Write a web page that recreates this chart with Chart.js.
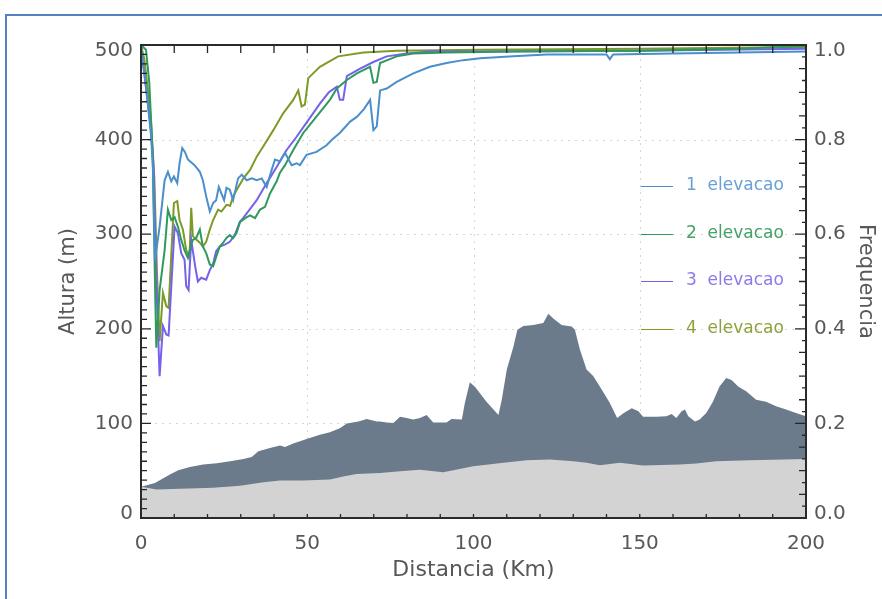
<!DOCTYPE html>
<html>
<head>
<meta charset="utf-8">
<script src="https://cdn.jsdelivr.net/npm/chart.js@4/dist/chart.umd.min.js"></script>
<style>
  html, body { margin: 0; padding: 0; background: #fff; }
  #wrap { position: relative; width: 882px; height: 599px; overflow: hidden; }
  #frame { position: absolute; left: 5px; top: 14px; width: 900px; height: 700px;
           border: 2px solid #5183c3; box-sizing: border-box; }
  #chart { position: absolute; left: 0; top: 0; }
  .key { position: absolute; left: 641px; font: 17px "DejaVu Sans", sans-serif; white-space: pre; }
  .key i { position: absolute; left: 0; width: 32px; height: 0; border-top: 1.6px solid; }
  .key span { position: absolute; left: 45px; top: -12px; }
</style>
</head>
<body>
<div id="wrap">
  <div id="frame"></div>
  <canvas id="chart" width="882" height="599"></canvas>
  <div id="keys"></div>
</div>
<script>
// Terrain profile along the path (m)
const terrainDist = [0, 4.2, 6.7, 8.7, 11.2, 14.7, 18.7, 22.8, 26.8, 30.8, 33.3, 35.3, 38.8, 41.8, 43.3, 45.8,
  49.8, 53.8, 56.8, 59.8, 61.9, 65.4, 67.9, 70.9, 71.9, 73.9, 75.9, 77.9, 79.9, 81.9, 83.9, 85.9, 87.9, 91.9,
  93.4, 96.5, 97.4, 98.9, 100.5, 103.9, 107.5, 108.5, 110, 112, 113.2, 115, 118, 121, 122.5, 124, 126.5, 129.5,
  130.5, 132, 134, 136, 138.6, 141, 143.2, 145.2, 147.6, 149.6, 151, 155, 158, 159.6, 161, 162.6, 163.6, 164.6,
  166.6, 168, 170, 172, 174, 176, 177.6, 179.6, 182, 185, 188, 191, 194, 197, 200];
const terrainHeight = [33, 37, 42, 46, 50.5, 54, 56.5, 58, 60, 62.5, 64.6, 70.5, 74, 76.6, 75, 78.7,
  83.6, 88, 90.6, 95, 99.8, 102, 104.7, 102, 102, 101, 100.5, 107, 105.8, 104, 105.8, 109, 101, 101,
  104.7, 104, 121.6, 143.4, 138.5, 123, 109, 125, 156.8, 181, 199, 203, 204, 206, 216, 211, 204, 202.5,
  199, 178, 157, 150, 135.7, 121.6, 105.8, 111, 116, 112.8, 107, 107, 107.5, 110, 105.8, 112.8, 114.6, 107.5,
  102, 104, 111, 123, 139, 148, 146, 139, 134, 125, 123, 118, 114.6, 111, 107.5];

// Lower surface along the path (m)
const baseDist = [0, 4.7, 11.7, 21.7, 29.8, 36.8, 41.8, 48.8, 56.8, 60.8, 64.8, 71.9, 77.9, 83.9, 90.9,
  99.9, 109, 116, 123, 130, 134, 138, 144, 151, 162, 167, 173, 183, 200];
const baseHeight = [33, 30, 30.8, 32, 34, 37.8, 39.6, 39.6, 40.6, 44, 46.6, 47.7, 49.4, 51, 48.4,
  54.7, 58.3, 61, 61.8, 60, 58.3, 55.8, 58.3, 55.4, 56.5, 57.5, 60, 61, 62.5];

// Frequency curves, one per elevation
const dist1 = [0, 1, 2, 3, 3.6, 4.2, 5.6, 7.1, 8.1, 9.1, 9.9, 10.9, 11.6, 12.4, 13.2, 14.1, 16.1, 17.7, 18.6,
  19.6, 20.7, 21.7, 22.6, 23.4, 24.2, 25, 25.7, 26.7, 27.7, 29.2, 30.3, 31.8, 33.3, 34.8, 36.3, 37.8, 39.3,
  40.3, 41.8, 43.3, 45.3, 46.8, 47.8, 49.8, 52.8, 55.8, 57.5, 59.8, 62.9, 64.9, 67, 68.9, 69.9, 70.9, 71.9,
  73.9, 76.9, 81.9, 86.9, 91.9, 96.9, 102, 112, 122, 132, 140, 141, 142, 160, 180, 200];
const freq1 = [0.998, 0.94, 0.88, 0.81, 0.74, 0.544, 0.616, 0.714, 0.732, 0.712, 0.722, 0.708, 0.75, 0.782,
  0.774, 0.758, 0.746, 0.732, 0.714, 0.68, 0.648, 0.666, 0.672, 0.7, 0.686, 0.672, 0.698, 0.694, 0.672, 0.718,
  0.726, 0.714, 0.718, 0.714, 0.718, 0.7, 0.736, 0.758, 0.754, 0.772, 0.746, 0.75, 0.746, 0.768, 0.774, 0.788,
  0.8, 0.814, 0.838, 0.848, 0.864, 0.884, 0.82, 0.828, 0.904, 0.908, 0.922, 0.94, 0.954, 0.962, 0.968, 0.972,
  0.976, 0.98, 0.98, 0.98, 0.97, 0.98, 0.982, 0.984, 0.986];

const dist2 = [0, 1.5, 2.5, 3.5, 4.2, 4.6, 5.6, 7.1, 8.1, 9.1, 10.1, 11.1, 12.1, 13.1, 14.1, 14.9, 15.6, 16.6,
  17.7, 18.6, 19.6, 20.7, 21.7, 22.6, 23.7, 24.7, 25.7, 26.7, 27.7, 28.7, 29.8, 31.3, 32.8, 34.3, 35.8, 37.3,
  38.8, 40.8, 41.8, 43.3, 45.8, 48.8, 51.8, 56.8, 58.9, 61.9, 64.9, 68.9, 69.9, 70.9, 71.9, 76.9, 81.9, 91.9,
  112, 150, 180, 200];
const freq2 = [1, 0.99, 0.92, 0.77, 0.5, 0.36, 0.482, 0.566, 0.652, 0.63, 0.636, 0.616, 0.588, 0.566, 0.55,
  0.574, 0.588, 0.592, 0.61, 0.574, 0.56, 0.536, 0.532, 0.552, 0.574, 0.582, 0.592, 0.598, 0.592, 0.602, 0.626,
  0.634, 0.64, 0.634, 0.652, 0.658, 0.686, 0.712, 0.73, 0.746, 0.778, 0.814, 0.84, 0.884, 0.908, 0.926, 0.94,
  0.954, 0.92, 0.922, 0.962, 0.976, 0.982, 0.984, 0.986, 0.988, 0.992, 0.998];

const dist3 = [0, 1, 2, 3, 3.8, 4.6, 5.6, 6.6, 7.6, 8.3, 10.1, 11.1, 12.1, 13.1, 13.6, 14.3, 15.1, 16.3, 17.1,
  18.1, 19.6, 20.7, 21.7, 22.6, 23.7, 25.2, 26.7, 28.2, 29.7, 30.7, 31.8, 34.8, 37.8, 40.8, 43.8, 46.8, 50.8,
  53.8, 56.5, 58.9, 59.8, 60.8, 61.9, 65.9, 69.9, 73.9, 79.9, 86.9, 102, 150, 200];
const freq3 = [0.99, 0.94, 0.88, 0.82, 0.74, 0.5, 0.3, 0.406, 0.388, 0.386, 0.616, 0.602, 0.56, 0.546, 0.49,
  0.482, 0.588, 0.532, 0.5, 0.508, 0.504, 0.524, 0.538, 0.564, 0.574, 0.578, 0.584, 0.598, 0.626, 0.634, 0.644,
  0.672, 0.708, 0.742, 0.778, 0.806, 0.846, 0.876, 0.9, 0.912, 0.884, 0.884, 0.934, 0.95, 0.964, 0.976, 0.982,
  0.986, 0.986, 0.988, 0.992];

const dist4 = [0, 1, 2, 3, 4, 4.8, 5.6, 6.6, 7.6, 8.3, 9.9, 10.9, 11.6, 12.6, 13.6, 14.6, 15.1, 15.6, 16.7,
  17.7, 18.6, 19.6, 20.7, 21.7, 23.2, 24.2, 25.7, 26.8, 27.7, 28.8, 30.8, 32.8, 34.8, 36.8, 39.8, 42.8, 45.8,
  47.3, 48.3, 49.3, 50.3, 53.8, 59.3, 66.9, 76.9, 102, 150, 200];
const freq4 = [1, 0.97, 0.91, 0.84, 0.72, 0.52, 0.374, 0.476, 0.448, 0.444, 0.666, 0.67, 0.63, 0.61, 0.566,
  0.552, 0.656, 0.596, 0.588, 0.582, 0.574, 0.584, 0.61, 0.63, 0.652, 0.648, 0.662, 0.66, 0.68, 0.694, 0.718,
  0.736, 0.764, 0.786, 0.82, 0.856, 0.884, 0.904, 0.87, 0.874, 0.93, 0.954, 0.976, 0.984, 0.988, 0.99, 0.992,
  0.996];

const seriesNames = ['1  elevacao', '2  elevacao', '3  elevacao', '4  elevacao'];
const seriesColors = ['#4a8fcb', '#2f9a5e', '#7462ea', '#7d9a26'];
const keyTextColors = ['#6aa0d4', '#45a06a', '#8a7ce8', '#8ca23c'];

const xTicks = [0, 50, 100, 150, 200];
const heightTicks = [0, 100, 200, 300, 400, 500];
const freqTicks = [0, 0.2, 0.4, 0.6, 0.8, 1.0];

const pts = (xs, ys) => xs.map((x, i) => ({ x, y: ys[i] }));

const FONT = '"DejaVu Sans", sans-serif';
Chart.defaults.font.family = FONT;
Chart.defaults.font.size = 20;
Chart.defaults.font.weight = 'normal';
Chart.defaults.color = '#585858';

// Dotted grid behind the data, inward ticks and box frame on top
const axisDecor = {
  id: 'axisDecor',
  beforeDraw(chart) {
    // keep the end labels of both value axes inside the box
    ['y', 'y2'].forEach(id => {
      const items = chart.scales[id].getLabelItems(chart.chartArea);
      if (items.length) {
        items[0].options.translation[1] -= 4;
        items[items.length - 1].options.translation[1] += 6;
      }
    });
  },
  beforeDatasetsDraw(chart) {
    const { ctx, chartArea: a, scales } = chart;
    ctx.save();
    ctx.strokeStyle = '#d6d6d6';
    ctx.lineWidth = 1;
    ctx.setLineDash([2, 5]);
    [50, 100, 150].forEach(v => {
      const x = Math.round(scales.x.getPixelForValue(v)) + 0.5;
      ctx.beginPath(); ctx.moveTo(x, a.top); ctx.lineTo(x, a.bottom); ctx.stroke();
    });
    [100, 200, 300, 400].forEach(v => {
      const y = Math.round(scales.y.getPixelForValue(v)) + 0.5;
      ctx.beginPath(); ctx.moveTo(a.left, y); ctx.lineTo(a.right, y); ctx.stroke();
    });
    ctx.restore();
  },
  afterDatasetsDraw(chart) {
    const { ctx, chartArea: a, scales } = chart;
    ctx.save();
    ctx.strokeStyle = '#262626';
    ctx.lineWidth = 1.3;
    ctx.beginPath();
    for (let v = 0; v <= 500; v += 10) {
      const y = scales.y.getPixelForValue(v);
      const len = v % 100 === 0 ? 10 : 6;
      ctx.moveTo(a.left, y); ctx.lineTo(a.left + len, y);
    }
    for (let k = 0; k <= 40; k++) {
      const v = k * 0.025;
      const y = scales.y2.getPixelForValue(v);
      const len = k % 8 === 0 ? 11 : (k % 2 === 0 ? 7 : 4);
      ctx.moveTo(a.right, y); ctx.lineTo(a.right - len, y);
    }
    for (let v = 0; v <= 200; v += 10) {
      const x = scales.x.getPixelForValue(v);
      ctx.moveTo(x, a.top); ctx.lineTo(x, a.top + 8);
      ctx.moveTo(x, a.bottom); ctx.lineTo(x, a.bottom - 4);
    }
    ctx.stroke();
    ctx.lineWidth = 2;
    ctx.strokeStyle = '#2a2a2a';
    ctx.strokeRect(a.left, a.top, a.right - a.left, a.bottom - a.top);
    ctx.restore();
  }
};

const lineSet = (i, xs, ys) => ({
  label: seriesNames[i],
  data: pts(xs, ys),
  yAxisID: 'y2',
  borderColor: seriesColors[i],
  borderWidth: 2,
  pointRadius: 0,
  tension: 0,
  fill: false,
  order: 0
});

new Chart(document.getElementById('chart'), {
  type: 'line',
  data: {
    datasets: [
      lineSet(0, dist1, freq1),
      lineSet(1, dist2, freq2),
      lineSet(2, dist3, freq3),
      lineSet(3, dist4, freq4),
      {
        label: 'superficie',
        data: pts(baseDist, baseHeight),
        yAxisID: 'y',
        borderWidth: 0,
        borderColor: '#d3d3d3',
        backgroundColor: '#d3d3d3',
        pointRadius: 0,
        tension: 0,
        fill: 'origin',
        order: 1
      },
      {
        label: 'relevo',
        data: pts(terrainDist, terrainHeight),
        yAxisID: 'y',
        borderWidth: 0,
        borderColor: '#6b7b8c',
        backgroundColor: '#6b7b8c',
        pointRadius: 0,
        tension: 0,
        fill: 'origin',
        order: 2
      }
    ]
  },
  options: {
    responsive: false,
    animation: false,
    events: [],
    layout: { padding: { top: 45, left: 0, right: 0, bottom: 0 } },
    plugins: { legend: { display: false }, tooltip: { enabled: false } },
    scales: {
      x: {
        type: 'linear', min: 0, max: 200,
        afterBuildTicks: s => { s.ticks = xTicks.map(v => ({ value: v })); },
        afterFit: s => { s.height = 81; },
        grid: { display: false, drawTicks: false },
        border: { display: false },
        ticks: { padding: 14, maxRotation: 0 },
        title: { display: true, text: 'Distancia (Km)', padding: { top: 0, bottom: 16 }, font: { size: 22 } }
      },
      y: {
        type: 'linear', position: 'left', min: 0, max: 500,
        afterBuildTicks: s => { s.ticks = heightTicks.map(v => ({ value: v })); },
        afterFit: s => { s.width = 141; },
        grid: { display: false, drawTicks: false },
        border: { display: false },
        ticks: { padding: 8 },
        title: { display: true, text: 'Altura (m)', padding: { top: 56, bottom: 0 }, font: { size: 21 } }
      },
      y2: {
        type: 'linear', position: 'right', min: 0, max: 1,
        afterBuildTicks: s => { s.ticks = freqTicks.map(v => ({ value: v })); },
        afterFit: s => { s.width = 76; },
        grid: { display: false, drawTicks: false },
        border: { display: false },
        ticks: { padding: 8, callback: v => v.toFixed(1) },
        title: { display: true, text: 'Frequencia', padding: { top: 4, bottom: 0 }, font: { size: 21 } }
      }
    }
  },
  plugins: [axisDecor]
});

// Series key drawn beside the curves
const keyRows = [186, 234, 281, 329];
const keys = document.getElementById('keys');
seriesNames.forEach((name, i) => {
  const row = document.createElement('div');
  row.className = 'key';
  row.style.top = keyRows[i] + 'px';
  const mark = document.createElement('i');
  mark.style.borderTopColor = seriesColors[i];
  const txt = document.createElement('span');
  txt.textContent = name;
  txt.style.color = keyTextColors[i];
  row.appendChild(mark);
  row.appendChild(txt);
  keys.appendChild(row);
});
</script>
</body>
</html>
